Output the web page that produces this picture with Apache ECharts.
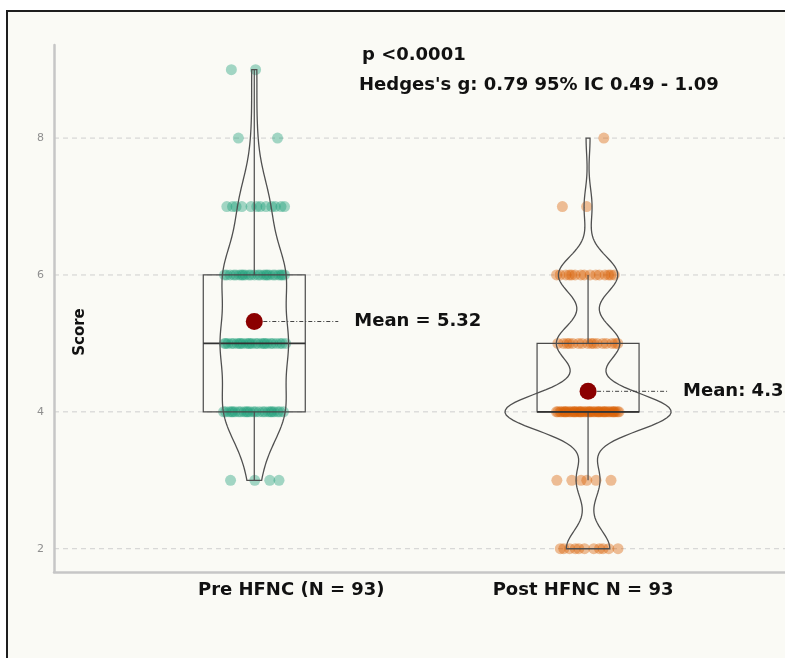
<!DOCTYPE html>
<html>
<head>
<meta charset="utf-8">
<script src="https://cdn.jsdelivr.net/npm/echarts@6/dist/echarts.min.js"></script>
<style>
  html, body { margin: 0; padding: 0; background: #ffffff; }
  #chart { width: 785px; height: 658px; }
</style>
</head>
<body>
<div id="chart"></div>
<script>
// ---- data: number of patients at each integer score ----
const groups = ['Pre HFNC (N = 93)', 'Post HFNC N = 93'];
const scoreLevels = [2, 3, 4, 5, 6, 7, 8, 9];
const preCounts  = [0, 4, 24, 25, 24, 12, 2, 2];
const postCounts = [11, 6, 42, 16, 15, 2, 1, 0];
const means = [5.32, 4.3];
const meanPrefixes = ['Mean = ', 'Mean: '];
const yTicks = [2, 4, 6, 8];
const statLines = ['p <0.0001', "Hedges's g: 0.79 95% IC 0.49 - 1.09"];

// ---- styling ----
const FONT = 'DejaVu Sans';
const groupColors = ['rgba(27,158,119,0.4)', 'rgba(217,95,2,0.4)'];
const LINE = '#4a4a4a';
const VIOLIN_HALF_PX = 83;   // half width of the widest violin
const BOX_HALF_PX = 51;
const JITTER = 0.095;        // horizontal spread of points, in axis units

// expand counts into individual observations (sorted)
function expand(counts) {
  const out = [];
  counts.forEach((c, k) => { for (let i = 0; i < c; i++) out.push(scoreLevels[k]); });
  return out;
}
const samples = [expand(preCounts), expand(postCounts)];

// quantile (type 7) on sorted values
function quantile(v, p) {
  const h = (v.length - 1) * p, lo = Math.floor(h), hi = Math.ceil(h);
  return v[lo] + (h - lo) * (v[hi] - v[lo]);
}
function sd(v) {
  const m = v.reduce((a, b) => a + b, 0) / v.length;
  return Math.sqrt(v.reduce((a, b) => a + (b - m) * (b - m), 0) / (v.length - 1));
}
// Tukey box summary: [lower whisker, Q1, median, Q3, upper whisker]
function boxStats(v) {
  const q1 = quantile(v, 0.25), med = quantile(v, 0.5), q3 = quantile(v, 0.75);
  const iqr = q3 - q1;
  const lo = Math.min(...v.filter(x => x >= q1 - 1.5 * iqr));
  const hi = Math.max(...v.filter(x => x <= q3 + 1.5 * iqr));
  return [lo, q1, med, q3, hi];
}
// gaussian kernel density (Silverman bandwidth), trimmed to data range
function violinCurve(v) {
  const n = v.length;
  const iqr = quantile(v, 0.75) - quantile(v, 0.25);
  const bw = 0.9 * Math.min(sd(v), iqr / 1.34) * Math.pow(n, -0.2);
  const lo = v[0], hi = v[n - 1], steps = 160, out = [];
  for (let s = 0; s <= steps; s++) {
    const y = lo + (hi - lo) * s / steps;
    let d = 0;
    for (const x of v) { const z = (y - x) / bw; d += Math.exp(-0.5 * z * z); }
    out.push([y, d / (n * bw * Math.sqrt(2 * Math.PI))]);
  }
  return out;
}
const boxes = samples.map(boxStats);
const curves = samples.map(violinCurve);
const densityMax = Math.max(...curves.flat().map(p => p[1]));

// deterministic horizontal spread of the points
function jittered(g) {
  const counts = g === 0 ? preCounts : postCounts;
  const pts = [];
  counts.forEach((c, k) => {
    for (let i = 0; i < c; i++) {
      const u = ((i + 1) * 0.6180339887 + k * 0.2718 + g * 0.5) % 1;
      pts.push([g + 1 + (2 * u - 1) * JITTER, scoreLevels[k]]);
    }
  });
  return pts;
}

const chart = echarts.init(document.getElementById('chart'), null, { renderer: 'canvas' });

const option = {
  backgroundColor: '#ffffff',
  animation: false,
  grid: { left: 54, top: 45, right: 0, bottom: 86, containLabel: false },
  xAxis: {
    type: 'value', min: 0.4, max: 2.59,
    axisLine: { show: true, onZero: false, lineStyle: { color: '#c6c6c6', width: 2.5 } },
    axisTick: { show: false },
    splitLine: { show: false },
    axisLabel: {
      customValues: [1, 2],
      margin: 9,
      formatter: v => (v === 1 ? '{a|' + groups[0] + '}' : '{b|' + groups[1] + '}'),
      rich: {
        a: { fontFamily: FONT, fontWeight: 'bold', fontSize: 18, color: '#111', padding: [0, 0, 0, 74] },
        b: { fontFamily: FONT, fontWeight: 'bold', fontSize: 18, color: '#111', padding: [0, 10, 0, 0] }
      }
    }
  },
  yAxis: {
    type: 'value', min: 1.66, max: 9.36,
    axisLine: { show: true, onZero: false, lineStyle: { color: '#c6c6c6', width: 2.5 } },
    axisTick: { show: false },
    splitLine: { show: false },
    axisLabel: {
      customValues: yTicks,
      margin: 10,
      fontFamily: FONT, fontSize: 11, color: '#8f8f8f',
      formatter: v => String(v)
    }
  },
  graphic: [
    {
      type: 'rect', z: -100, silent: true,
      shape: { x: 7, y: 11, width: 800, height: 700 },
      style: { fill: '#fafaf5', stroke: '#1e1e1e', lineWidth: 2 }
    },
    {
      type: 'text', x: 362, y: 55, z: 10,
      style: { text: statLines[0], font: 'bold 18px "DejaVu Sans"', fill: '#111', verticalAlign: 'middle' }
    },
    {
      type: 'text', x: 359, y: 85, z: 10,
      style: { text: statLines[1], font: 'bold 18px "DejaVu Sans"', fill: '#111', verticalAlign: 'middle' }
    },
    {
      type: 'text', x: 80, y: 332, rotation: Math.PI / 2, z: 10,
      style: { text: 'Score', font: 'bold 15px "DejaVu Sans"', fill: '#111', align: 'center', verticalAlign: 'middle' }
    }
  ],
  series: [
    // dashed horizontal guides at the tick values
    {
      type: 'custom', z: 0, silent: true,
      data: yTicks.map(v => [1, v]),
      renderItem: (params, api) => {
        const cs = params.coordSys;
        const y = api.coord([1, api.value(1)])[1];
        return {
          type: 'line',
          shape: { x1: cs.x, y1: y, x2: cs.x + cs.width, y2: y },
          style: { stroke: '#cfcfcf', lineWidth: 1, lineDash: [5, 4] }
        };
      }
    },
    // individual observations
    ...[0, 1].map(g => ({
      type: 'scatter', z: 1, silent: true,
      symbol: 'circle', symbolSize: 11,
      itemStyle: { color: groupColors[g], opacity: 1 },
      data: jittered(g)
    })),
    // box plots
    {
      type: 'custom', z: 2, silent: true,
      data: boxes.map((b, i) => [i + 1, b[2]]),
      renderItem: (params, api) => {
        const i = params.dataIndex, b = boxes[i];
        const xc = api.coord([i + 1, b[2]])[0];
        const py = b.map(v => api.coord([i + 1, v])[1]);
        const st = { stroke: LINE, lineWidth: 1.2, fill: 'none' };
        return {
          type: 'group',
          children: [
            { type: 'line', shape: { x1: xc, y1: py[3], x2: xc, y2: py[4] }, style: st },
            { type: 'line', shape: { x1: xc, y1: py[1], x2: xc, y2: py[0] }, style: st },
            { type: 'rect', shape: { x: xc - BOX_HALF_PX, y: py[3], width: 2 * BOX_HALF_PX, height: py[1] - py[3] }, style: st },
            { type: 'line', shape: { x1: xc - BOX_HALF_PX, y1: py[2], x2: xc + BOX_HALF_PX, y2: py[2] }, style: { stroke: '#333', lineWidth: 1.6 } }
          ]
        };
      }
    },
    // violins
    {
      type: 'custom', z: 3, silent: true,
      data: curves.map((c, i) => [i + 1, c[0][0]]),
      renderItem: (params, api) => {
        const i = params.dataIndex;
        const xc = api.coord([i + 1, 0])[0];
        const left = [], right = [];
        curves[i].forEach(([y, d]) => {
          const py = api.coord([i + 1, y])[1];
          const hw = d / densityMax * VIOLIN_HALF_PX;
          left.push([xc - hw, py]);
          right.push([xc + hw, py]);
        });
        return {
          type: 'polygon',
          shape: { points: left.concat(right.reverse()) },
          style: { fill: 'none', stroke: '#505050', lineWidth: 1.3 }
        };
      }
    },
    // mean connectors and labels
    {
      type: 'custom', z: 4, silent: true,
      data: means.map((m, i) => [i + 1, m]),
      renderItem: (params, api) => {
        const i = params.dataIndex;
        const p = api.coord([api.value(0), api.value(1)]);
        const lineLen = i === 0 ? 84 : 81;
        const textGap = i === 0 ? 100 : 95;
        const txt = meanPrefixes[i] + (i === 0 ? means[i].toFixed(2) : String(means[i]));
        return {
          type: 'group',
          children: [
            { type: 'line', shape: { x1: p[0], y1: p[1], x2: p[0] + lineLen, y2: p[1] },
              style: { stroke: '#444', lineWidth: 1, lineDash: [4, 2, 1, 2] } },
            { type: 'text', x: p[0] + textGap, y: p[1],
              style: { text: txt, font: 'bold 18px "DejaVu Sans"', fill: '#111', verticalAlign: 'middle' } }
          ]
        };
      }
    },
    // mean markers
    {
      type: 'scatter', z: 5, silent: true,
      symbol: 'circle', symbolSize: 17,
      itemStyle: { color: '#8b0000', opacity: 1 },
      data: means.map((m, i) => [i + 1, m])
    }
  ]
};

chart.setOption(option);
</script>
</body>
</html>
